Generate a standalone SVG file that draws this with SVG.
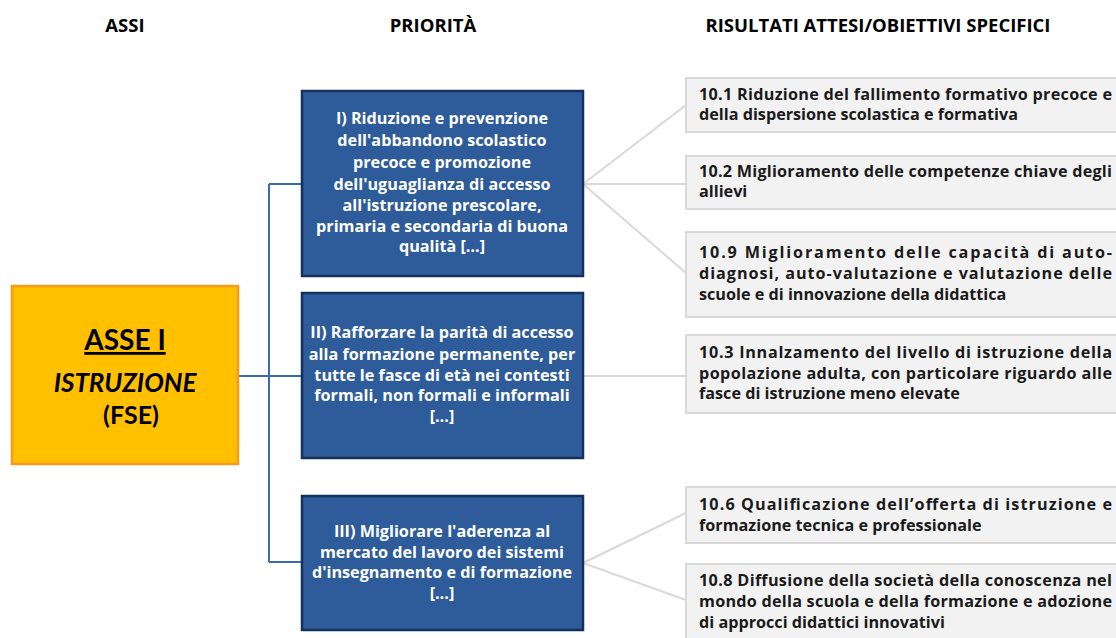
<svg xmlns="http://www.w3.org/2000/svg" width="1116" height="638" viewBox="0 0 1116 638">
<style>
.hdr{font-family:"Open Sans",Lato,sans-serif;font-weight:bold;font-size:18.5px;fill:#000;text-anchor:middle}
.asse{fill:#FFC000;stroke:#F79A1E;stroke-width:2.5}
.prio{fill:#2E5C9A;stroke:#14305F;stroke-width:2.5}
.prt{font-family:"Open Sans",Lato,sans-serif;font-weight:bold;font-size:16.2px;fill:#fff;text-anchor:middle}
.res{fill:#F2F2F2;stroke:#D9D9D9;stroke-width:2}
.rt{font-family:"Open Sans",Lato,sans-serif;font-weight:bold;font-size:16.2px;fill:#1a1a1a}
.cb{fill:none;stroke:#3A6BB0;stroke-width:2}
.cg{fill:none;stroke:#D9D9D9;stroke-width:2}
</style>
<rect width="1116" height="638" fill="#fff"/>
<g id="headers">
<text class="hdr" x="125" y="32">ASSI</text>
<text class="hdr" x="433" y="32">PRIORITÀ</text>
<text class="hdr" x="878" y="32">RISULTATI ATTESI/OBIETTIVI SPECIFICI</text>
</g>
<g id="connectors">
<path class="cb" d="M238,376 H269 M269,184 V562 M269,184 H301 M269,376 H301 M269,562 H301"/>
<path class="cg" d="M583,184 L686,105 M583,184 H686 M583,184 L686,273 M583,376 H686 M583,563 L686,513 M583,563 L686,600"/>
</g>
<g id="asse">
<rect class="asse" x="12" y="286" width="226" height="178"/>
<text x="125" y="350" font-family="Lato,'Open Sans',sans-serif" font-weight="bold" font-size="28" text-anchor="middle" text-decoration="underline">ASSE I</text>
<text x="125" y="392" font-family="Lato,'Open Sans',sans-serif" font-weight="bold" font-style="italic" font-size="26" text-anchor="middle">ISTRUZIONE</text>
<text x="131" y="424" font-family="Lato,'Open Sans',sans-serif" font-weight="bold" font-size="25" text-anchor="middle">(FSE)</text>
</g>
<g id="p1">
<rect class="prio" x="302" y="91" width="281" height="185"/>
<text class="prt" x="442" y="124">I) Riduzione e prevenzione</text>
<text class="prt" x="442" y="146">dell'abbandono scolastico</text>
<text class="prt" x="442" y="168">precoce e promozione</text>
<text class="prt" x="442" y="190">dell'uguaglianza di accesso</text>
<text class="prt" x="442" y="211">all'istruzione prescolare,</text>
<text class="prt" x="442" y="232">primaria e secondaria di buona</text>
<text class="prt" x="442" y="252">qualità […]</text>
</g>
<g id="p2">
<rect class="prio" x="302" y="293" width="281" height="165"/>
<text class="prt" x="442" y="338">II) Rafforzare la parità di accesso</text>
<text class="prt" x="442" y="360">alla formazione permanente, per</text>
<text class="prt" x="442" y="381">tutte le fasce di età nei contesti</text>
<text class="prt" x="442" y="401">formali, non formali e informali</text>
<text class="prt" x="442" y="422">[…]</text>
</g>
<g id="p3">
<rect class="prio" x="302" y="496" width="281" height="134"/>
<text class="prt" x="442" y="537">III) Migliorare l'aderenza al</text>
<text class="prt" x="442" y="558">mercato del lavoro dei sistemi</text>
<text class="prt" x="442" y="578">d'insegnamento e di formazione</text>
<text class="prt" x="442" y="599">[…]</text>
</g>
<g id="r101">
<rect class="res" x="686" y="78" width="440" height="54"/>
<text class="rt" x="699" y="100" textLength="413" lengthAdjust="spacing">10.1 Riduzione del fallimento formativo precoce e</text>
<text class="rt" x="699" y="120">della dispersione scolastica e formativa</text>
</g>
<g id="r102">
<rect class="res" x="686" y="156" width="440" height="53"/>
<text class="rt" x="699" y="177" textLength="413" lengthAdjust="spacing">10.2 Miglioramento delle competenze chiave degli</text>
<text class="rt" x="699" y="197">allievi</text>
</g>
<g id="r109">
<rect class="res" x="686" y="232" width="440" height="85"/>
<text class="rt" x="699" y="258" textLength="413" lengthAdjust="spacing">10.9 Miglioramento delle capacità di auto-</text>
<text class="rt" x="699" y="279" textLength="413" lengthAdjust="spacing">diagnosi, auto-valutazione e valutazione delle</text>
<text class="rt" x="699" y="300">scuole e di innovazione della didattica</text>
</g>
<g id="r103">
<rect class="res" x="686" y="335" width="440" height="78"/>
<text class="rt" x="699" y="358" textLength="413" lengthAdjust="spacing">10.3 Innalzamento del livello di istruzione della</text>
<text class="rt" x="699" y="379" textLength="413" lengthAdjust="spacing">popolazione adulta, con particolare riguardo alle</text>
<text class="rt" x="699" y="399">fasce di istruzione meno elevate</text>
</g>
<g id="r106">
<rect class="res" x="686" y="487" width="440" height="56"/>
<text class="rt" x="699" y="510" textLength="413" lengthAdjust="spacing">10.6 Qualificazione dell’offerta di istruzione e</text>
<text class="rt" x="699" y="531">formazione tecnica e professionale</text>
</g>
<g id="r108">
<rect class="res" x="686" y="564" width="440" height="90"/>
<text class="rt" x="699" y="586" textLength="413" lengthAdjust="spacing">10.8 Diffusione della società della conoscenza nel</text>
<text class="rt" x="699" y="607" textLength="413" lengthAdjust="spacing">mondo della scuola e della formazione e adozione</text>
<text class="rt" x="699" y="628">di approcci didattici innovativi</text>
</g>
</svg>
